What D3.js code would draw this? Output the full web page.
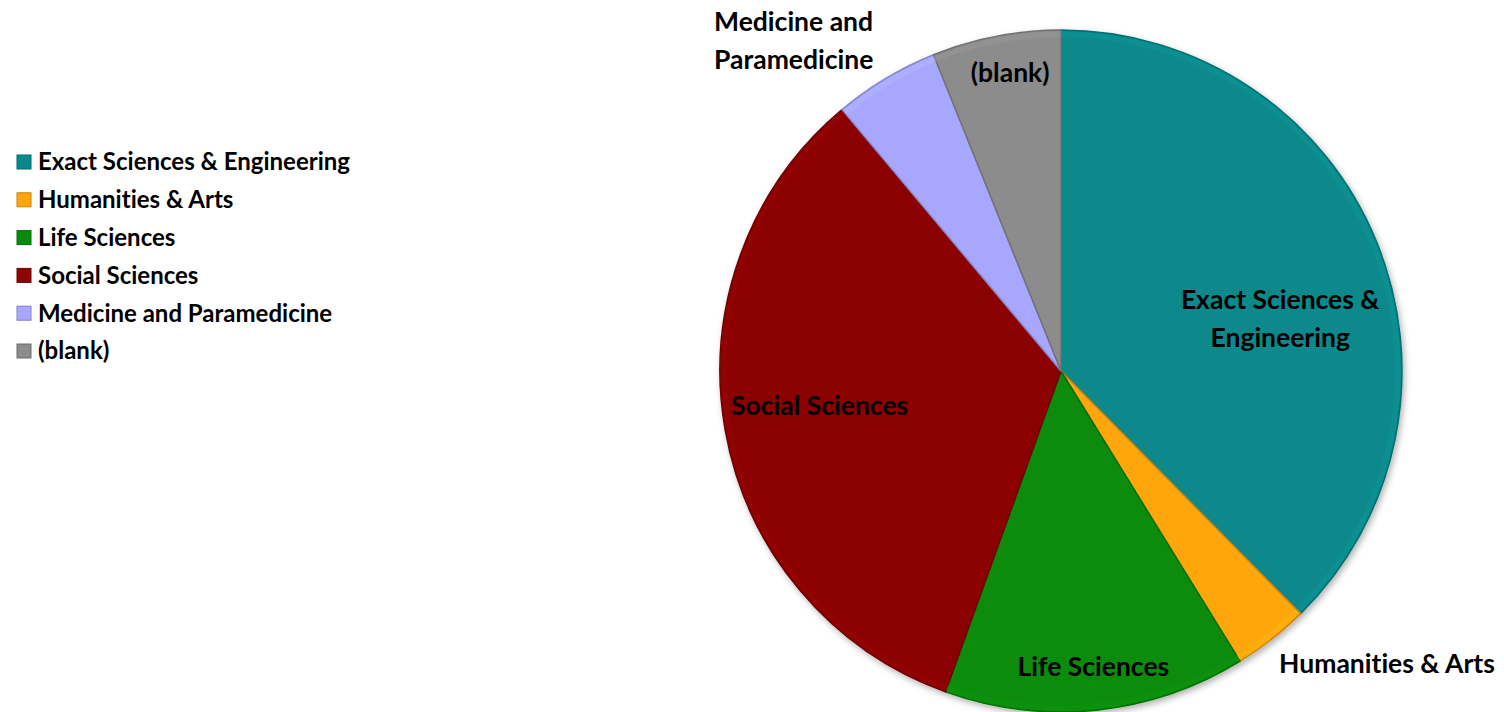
<!DOCTYPE html>
<html>
<head>
<meta charset="utf-8">
<script src="https://cdn.jsdelivr.net/npm/d3@7"></script>
<style>
  body { margin: 0; background: #fff; }
  text { font-family: Lato, "Open Sans", sans-serif; font-weight: bold; fill: #000;
         font-variant-ligatures: none; font-feature-settings: "liga" 0; }
</style>
</head>
<body>
<svg id="chart" width="1504" height="712"></svg>
<script>

// slice shares (percent)
var categories = ["Exact Sciences & Engineering", "Humanities & Arts", "Life Sciences",
                  "Social Sciences", "Medicine and Paramedicine", "(blank)"];
var shares = [37.6, 3.6, 14.3, 33.4, 5.0, 6.1];
var colors = ["#08898B", "#FFA60C", "#088B08", "#8B0505", "#A7A7FF", "#8C8C8C"];

// label lines as shown on the slices
var labelLines = [["Exact Sciences &", "Engineering"], ["Humanities & Arts"], ["Life Sciences"],
                  ["Social Sciences"], ["Medicine and", "Paramedicine"], ["(blank)"]];

var svg = d3.select("#chart");
var cx = 1061, cy = 371, R = 341;

var defs = svg.append("defs");
var f = defs.append("filter").attr("id", "shadow").attr("x", "-10%").attr("y", "-10%")
    .attr("width", "120%").attr("height", "120%");
f.append("feDropShadow").attr("dx", 2).attr("dy", 3).attr("stdDeviation", 3)
    .attr("flood-color", "#000").attr("flood-opacity", 0.3);

var data = categories.map(function(c, i) { return {name: c, value: shares[i], color: colors[i], lines: labelLines[i]}; });

var pie = d3.pie().sort(null).value(function(d) { return d.value; });
var arc = d3.arc().innerRadius(0).outerRadius(R);
var arcs = pie(data);

var g = svg.append("g").attr("transform", "translate(" + cx + "," + cy + ")");

g.append("g").attr("filter", "url(#shadow)")
  .selectAll("path")
  .data(arcs)
  .enter()
  .append("path")
    .attr("d", arc)
    .attr("fill", function(d) { return d.data.color; })
    .attr("stroke", function(d) { return d3.color(d.data.color).darker(0.6); })
    .attr("stroke-width", 1.5)
    .attr("stroke-linejoin", "round");

// soft bevel highlight along the rim
g.selectAll("path.rim")
  .data(arcs)
  .enter()
  .append("path")
    .attr("class", "rim")
    .attr("d", d3.arc().innerRadius(R - 7).outerRadius(R - 1.5))
    .attr("fill", function(d) { return d3.color(d.data.color).brighter(0.35); })
    .attr("opacity", 0.35);

// label placement: angle-centroid radius factor, then nudge (layout only)
var labelPlace = [
  {r: 0.66, dx: 11, dy: 33},
  {r: 1.12, dx: 90, dy: -8},
  {r: 0.86, dx: 2, dy: 4},
  {r: 0.71, dx: -3, dy: -8},
  {r: 1.06, dx: -161, dy: -20},
  {r: 0.86, dx: 5, dy: -10}
];

var fs = 26.5, lh = 38;
var labels = g.selectAll("text.lbl")
  .data(arcs)
  .enter()
  .append("text")
    .attr("class", "lbl")
    .attr("font-size", fs)
    .attr("text-anchor", function(d, i) { return i === 4 ? "start" : "middle"; })
    .attr("transform", function(d, i) {
      var p = d3.arc().innerRadius(R * labelPlace[i].r).outerRadius(R * labelPlace[i].r).centroid(d);
      return "translate(" + (p[0] + labelPlace[i].dx) + "," + (p[1] + labelPlace[i].dy) + ")";
    });

labels.each(function(d) {
  var t = d3.select(this);
  var n = d.data.lines.length;
  d.data.lines.forEach(function(line, k) {
    t.append("tspan").attr("x", 0).attr("y", (k - (n - 1) / 2) * lh).attr("dy", "0.35em").text(line);
  });
});

// legend
var legend = svg.append("g").attr("transform", "translate(17,162)");
var rows = legend.selectAll("g")
  .data(data)
  .enter()
  .append("g")
    .attr("transform", function(d, i) { return "translate(0," + (i * 37.8) + ")"; });

rows.append("rect")
    .attr("x", 0).attr("y", -7).attr("width", 14).attr("height", 14)
    .attr("fill", function(d) { return d.color; })
    .attr("stroke", function(d) { return d3.color(d.color).darker(0.7); })
    .attr("stroke-width", 1);

rows.append("text")
    .attr("x", 21).attr("dy", "0.35em")
    .attr("font-size", 24)
    .text(function(d) { return d.name; });

</script>
</body>
</html>
